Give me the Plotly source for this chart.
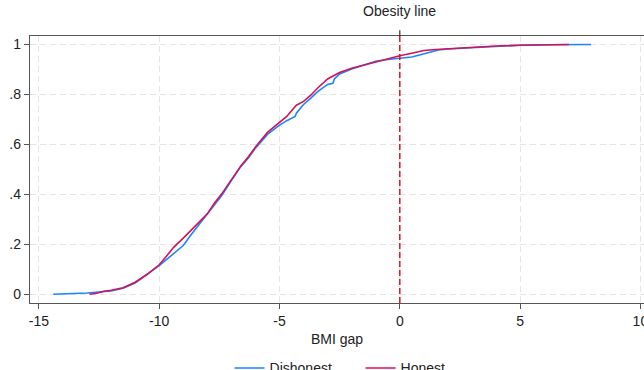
import plotly.graph_objects as go

# Dishonest group: empirical CDF of BMI gap
dishonest_x = [-14.4, -13.5, -13.0, -12.5, -12.0, -11.5, -11.0, -10.5, -10.0, -9.5, -9.0, -8.7,
               -8.3, -8.0, -7.7, -7.4, -7.0, -6.6, -6.3, -6.0, -5.5, -5.0, -4.7, -4.35, -4.3,
               -4.0, -3.7, -3.4, -3.0, -2.78, -2.72, -2.5, -2.0, -1.5, -1.0, -0.5, 0.0, 0.5,
               0.9, 1.2, 1.6, 2.0, 3.0, 4.0, 5.0, 6.0, 7.0, 7.95]
dishonest_y = [0.0, 0.002, 0.005, 0.009, 0.013, 0.024, 0.045, 0.08, 0.115, 0.155, 0.195, 0.235,
               0.285, 0.318, 0.36, 0.395, 0.455, 0.512, 0.545, 0.585, 0.64, 0.677, 0.695, 0.712,
               0.725, 0.76, 0.785, 0.812, 0.84, 0.845, 0.862, 0.882, 0.902, 0.916, 0.933, 0.94,
               0.946, 0.95, 0.96, 0.968, 0.978, 0.982, 0.988, 0.993, 0.997, 0.999, 1.0, 1.0]

# Honest group: empirical CDF of BMI gap
honest_x = [-12.9, -12.6, -12.3, -12.0, -11.5, -11.0, -10.5, -10.0, -9.7, -9.4, -9.0, -8.6,
            -8.3, -8.0, -7.7, -7.4, -7.0, -6.6, -6.3, -6.0, -5.5, -5.0, -4.7, -4.3, -4.0,
            -3.7, -3.4, -3.0, -2.5, -2.0, -1.5, -1.0, -0.5, 0.0, 0.5, 1.0, 1.5, 2.0, 3.0,
            4.0, 5.0, 6.0, 7.03]
honest_y = [0.0, 0.004, 0.012, 0.016, 0.026, 0.048, 0.08, 0.118, 0.152, 0.188, 0.225, 0.262,
            0.293, 0.322, 0.365, 0.402, 0.46, 0.515, 0.55, 0.59, 0.648, 0.69, 0.712, 0.757,
            0.772, 0.797, 0.827, 0.862, 0.888, 0.905, 0.918, 0.93, 0.943, 0.955, 0.965, 0.976,
            0.98, 0.983, 0.989, 0.994, 0.997, 0.999, 1.0]

x_ticks = [-15, -10, -5, 0, 5, 10]
x_tick_labels = ["-15", "-10", "-5", "0", "5", "10"]
y_ticks = [0, 0.2, 0.4, 0.6, 0.8, 1.0]
y_tick_labels = ["0", ".2", ".4", ".6", ".8", "1"]
obesity_x = 0

BLUE = "#1a85ff"
PINK = "#d41159"
TXT = "#222222"
FONT = "Liberation Sans, Arial, sans-serif"
FS = 14

fig = go.Figure()
fig.add_trace(go.Scatter(x=dishonest_x, y=dishonest_y, mode="lines", name="Dishonest",
                         line=dict(color=BLUE, width=1.6)))
fig.add_trace(go.Scatter(x=honest_x, y=honest_y, mode="lines", name="Honest",
                         line=dict(color=PINK, width=1.6)))

# obesity line
fig.add_shape(type="line", xref="x", yref="paper", x0=obesity_x, x1=obesity_x, y0=0, y1=1,
              line=dict(color="#e8101e", width=1.5, dash="6px,3px"))
fig.add_shape(type="line", xref="x", yref="paper", x0=obesity_x, x1=obesity_x, y0=1, y1=1.022,
              line=dict(color="#333333", width=1.2))
fig.add_annotation(x=obesity_x, xref="x", y=1.055, yref="paper", text="Obesity line",
                   showarrow=False, yanchor="bottom", font=dict(size=FS, color=TXT, family=FONT))

grid = dict(showgrid=True, gridcolor="#e4e4e4", gridwidth=1.3, griddash="6px,4px")

fig.update_layout(
    width=644, height=370,
    margin=dict(l=29.5, r=0, t=36, b=67, autoexpand=False),
    paper_bgcolor="white", plot_bgcolor="white",
    font=dict(family=FONT, size=FS, color=TXT),
    showlegend=True,
    legend=dict(orientation="h", x=0.325, xanchor="left", y=-0.245, yanchor="middle",
                font=dict(size=FS, color=TXT), entrywidth=86, itemwidth=30,
                bgcolor="rgba(0,0,0,0)"),
    xaxis=dict(range=[-15.37, 10.15], tickvals=x_ticks, ticktext=x_tick_labels,
               ticks="outside", ticklen=5, tickcolor="#555555", tickwidth=1.2,
               showline=True, linecolor="#555555", linewidth=1.3, mirror=True,
               zeroline=False, ticklabeloverflow="allow",
               title=dict(text="BMI gap", standoff=6, font=dict(size=FS)),
               tickfont=dict(size=FS), **grid),
    yaxis=dict(range=[-0.035, 1.034], tickvals=y_ticks, ticktext=y_tick_labels,
               ticks="outside", ticklen=5, tickcolor="#555555", tickwidth=1.2,
               showline=True, linecolor="#555555", linewidth=1.3, mirror=True,
               zeroline=False, tickfont=dict(size=FS), **grid),
)

fig.write_html("out.html")
